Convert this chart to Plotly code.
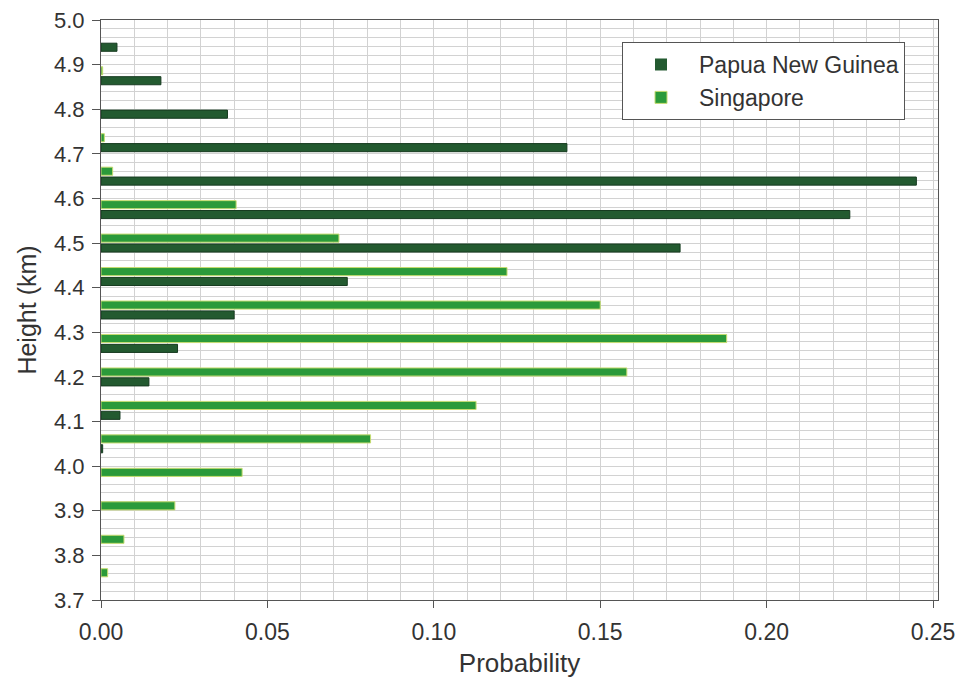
import plotly.graph_objects as go

heights = [3.750, 3.825, 3.900, 3.975, 4.050, 4.125, 4.200, 4.275, 4.350,
           4.425, 4.500, 4.575, 4.650, 4.725, 4.800, 4.875, 4.950]
png_prob = [0.0, 0.0, 0.0, 0.0, 0.0005, 0.0057, 0.0144, 0.023, 0.040,
            0.074, 0.174, 0.225, 0.245, 0.140, 0.038, 0.018, 0.0048]
sgp_prob = [0.002, 0.0069, 0.0222, 0.0424, 0.081, 0.1127, 0.158, 0.188, 0.150,
            0.122, 0.0715, 0.0406, 0.0035, 0.001, 0.0, 0.0005, 0.0]

x_ticks = [0, 0.05, 0.10, 0.15, 0.20, 0.25]
y_ticks = [3.7, 3.8, 3.9, 4.0, 4.1, 4.2, 4.3, 4.4, 4.5, 4.6, 4.7, 4.8, 4.9, 5.0]

FONT = "Liberation Sans, Arial, Helvetica, sans-serif"
TXT = "#333333"

fig = go.Figure()
fig.add_trace(go.Bar(
    y=heights, x=png_prob, orientation="h", name="Papua New Guinea",
    marker=dict(color="#235a30",
                line=dict(color="#173b20", width=[1 if v > 0 else 0 for v in png_prob])),
))
fig.add_trace(go.Bar(
    y=heights, x=sgp_prob, orientation="h", name="Singapore",
    marker=dict(color="#2b9a3a",
                line=dict(color="#c6dc70", width=[1 if v > 0 else 0 for v in sgp_prob])),
))

grid_col = "#d2d2d2"
fig.update_layout(
    width=947, height=670,
    margin=dict(l=93, r=17, t=12, b=78),
    paper_bgcolor="white", plot_bgcolor="white",
    barmode="group", bargap=0.41, bargroupgap=0.18,
    font=dict(family=FONT, color=TXT, size=24),
    showlegend=True,
    legend=dict(
        x=0.9606, y=0.962, xanchor="right", yanchor="top",
        bgcolor="white", bordercolor="#555555", borderwidth=1,
        font=dict(family=FONT, size=23, color=TXT), itemwidth=66,
        traceorder="normal", tracegroupgap=0,
    ),
    xaxis=dict(
        range=[0, 0.2515], tickvals=x_ticks,
        tickformat=".2f", ticks="outside", ticklen=7, tickcolor="#555555",
        ticklabelstandoff=4, ticklabeloverflow="allow",
        showline=True, linecolor="#555555", linewidth=1, mirror=True,
        showgrid=True, gridcolor=grid_col, gridwidth=1,
        minor=dict(dtick=0.01, tick0=0, showgrid=True, gridcolor=grid_col, gridwidth=1),
        zeroline=False, automargin=False,
        title=dict(text="Probability", font=dict(family=FONT, size=26, color=TXT), standoff=24),
        tickfont=dict(family=FONT, size=23, color=TXT),
    ),
    yaxis=dict(
        range=[3.7, 5.0], tickvals=y_ticks,
        tickformat=".1f", ticks="outside", ticklen=8, tickcolor="#555555",
        ticklabelstandoff=3, ticklabeloverflow="allow",
        showline=True, linecolor="#555555", linewidth=1, mirror=True,
        showgrid=True, gridcolor=grid_col, gridwidth=1,
        minor=dict(dtick=0.02, tick0=3.7, showgrid=True, gridcolor=grid_col, gridwidth=1),
        zeroline=False, automargin=False,
        title=dict(text="Height (km)", font=dict(family=FONT, size=25, color=TXT), standoff=10),
        tickfont=dict(family=FONT, size=22, color=TXT),
    ),
)

fig.write_html("out.html")
